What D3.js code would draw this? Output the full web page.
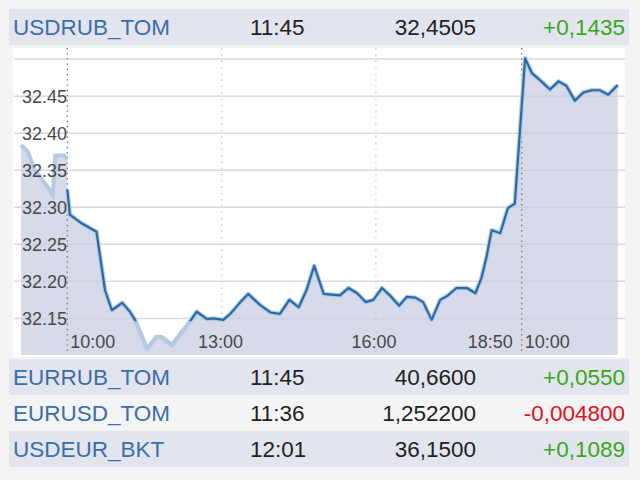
<!DOCTYPE html>
<html lang="ru">
<head>
    <meta charset="UTF-8">
    <title>USDRUB_TOM</title>
    <script src="https://d3js.org/d3.v7.min.js"></script>
    <style>
        body {
            margin: 0;
            background: #f4f4f4;
        }
        svg text {
            font-family: "Liberation Sans", Arial, sans-serif;
        }
    </style>
</head>
<body>
    <svg id="chart" width="640" height="480"></svg>
    <script>
    // quotes table (first row is the charted instrument)
    const tickers = ["USDRUB_TOM", "EURRUB_TOM", "EURUSD_TOM", "USDEUR_BKT"];
    const quoteTimes = ["11:45", "11:45", "11:36", "12:01"];
    const prices = ["32,4505", "40,6600", "1,252200", "36,1500"];
    const changes = ["+0,1435", "+0,0550", "-0,004800", "+0,1089"];

    // intraday series: tail of previous session, full session, current session
    const prevTimes = ["17:56", "18:04", "18:12", "18:21", "18:28", "18:33", "18:36", "18:46", "18:50"];
    const prevValues = [32.384, 32.375, 32.350, 32.337, 32.326, 32.317, 32.370, 32.370, 32.366];

    const day1Times = ["10:00", "10:03", "10:17", "10:34", "10:44", "10:52", "11:04", "11:13", "11:19",
        "11:33", "11:44", "11:50", "12:02", "12:14", "12:19", "12:31", "12:43", "12:50", "13:02",
        "13:10", "13:22", "13:31", "13:45", "13:57", "14:08", "14:19", "14:30", "14:39", "14:48",
        "14:59", "15:08", "15:18", "15:28", "15:38", "15:48", "15:57", "16:07", "16:18", "16:27",
        "16:36", "16:46", "16:55", "17:05", "17:15", "17:24", "17:34", "17:46", "17:56", "18:03",
        "18:09", "18:15", "18:25", "18:34", "18:42"];
    const day1Values = [32.324, 32.290, 32.278, 32.267, 32.188, 32.161, 32.171, 32.159, 32.148,
        32.109, 32.125, 32.125, 32.114, 32.132, 32.139, 32.159, 32.149, 32.150, 32.148,
        32.156, 32.172, 32.183, 32.168, 32.158, 32.156, 32.175, 32.165, 32.188, 32.221,
        32.183, 32.182, 32.181, 32.191, 32.184, 32.172, 32.175, 32.191, 32.179, 32.167,
        32.179, 32.178, 32.172, 32.148, 32.175, 32.181, 32.191, 32.191, 32.184, 32.204,
        32.233, 32.269, 32.265, 32.299, 32.305];

    const day2Times = ["10:04", "10:12", "10:21", "10:33", "10:43", "10:52", "11:02", "11:12", "11:22", "11:31", "11:41", "11:52"];
    const day2Values = [32.501, 32.481, 32.472, 32.459, 32.470, 32.464, 32.444, 32.455, 32.458, 32.458, 32.452, 32.465];

    const yTicks = [32.15, 32.20, 32.25, 32.30, 32.35, 32.40, 32.45, 32.50];
    const yLabelled = [32.15, 32.20, 32.25, 32.30, 32.35, 32.40, 32.45];
    const xTickLabels = ["10:00", "13:00", "16:00", "18:50", "10:00"];
    const xTickDays = [0, 0, 0, 0, 1];
    const sessionBreaks = ["10:00", "18:50"];

    // trading minutes: session 10:00-18:50 = 530 min, sessions glued together
    const SESSION = 530;
    function tradeMin(day, t) {
        const [h, m] = t.split(":").map(Number);
        return day * SESSION + h * 60 + m - 600;
    }
    const toPoints = (day, times, values) => times.map((t, i) => ({ x: tradeMin(day, t), v: values[i] }));
    const prevData = toPoints(-1, prevTimes, prevValues);
    const mainData = toPoints(0, day1Times, day1Values).concat(toPoints(1, day2Times, day2Values));
    const allData = prevData.concat(mainData);

    const svg = d3.select("#chart");
    const blue = "#3b6ea9";

    const panel = { left: 13, right: 625, top: 48, bottom: 357 };
    const x = d3.scaleLinear()
        .domain([d3.min(allData, d => d.x), d3.max(allData, d => d.x)])
        .range([21, 617.7]);
    const y = d3.scaleLinear()
        .domain([32.1006, 32.515])
        .range([355, 48]);

    // header row
    function drawRow(g, i, yTop, filled) {
        if (filled) {
            g.append("rect")
                .attr("x", 9).attr("y", yTop)
                .attr("width", 620).attr("height", 36)
                .attr("fill", "#e2e5ee");
        }
        const base = yTop + 26;
        const txt = (xx, s, anchor, fill) => g.append("text")
            .attr("x", xx).attr("y", base)
            .attr("text-anchor", anchor)
            .attr("font-size", "22.5px")
            .attr("fill", fill)
            .text(s);
        txt(13, tickers[i], "start", blue);
        txt(250, quoteTimes[i], "start", "#222");
        txt(476, prices[i], "end", "#222");
        txt(625, changes[i], "end", changes[i].startsWith("-") ? "#e3101e" : "#3aa51c");
    }
    drawRow(svg.append("g"), 0, 9, true);

    // chart panel
    svg.append("rect")
        .attr("x", panel.left).attr("y", panel.top)
        .attr("width", panel.right - panel.left)
        .attr("height", panel.bottom - panel.top)
        .attr("fill", "#fff");

    svg.append("g").selectAll("line")
        .data(yTicks)
        .enter().append("line")
        .attr("x1", panel.left + 1).attr("x2", panel.right)
        .attr("y1", d => y(d)).attr("y2", d => y(d))
        .attr("stroke", "#dadada")
        .attr("stroke-width", 1.5);

    const area = d3.area()
        .x(d => x(d.x))
        .y0(y.range()[0])
        .y1(d => y(d.v));
    svg.append("path")
        .datum(allData)
        .attr("d", area)
        .attr("fill", "#c9cde0")
        .attr("opacity", 0.75);

    // dotted time lines
    const tickPos = xTickLabels.map((t, i) => x(tradeMin(xTickDays[i], t)));
    const breakPos = [x(tradeMin(0, sessionBreaks[0])), x(tradeMin(0, sessionBreaks[1]))];
    svg.append("g").selectAll("line")
        .data([tickPos[1], tickPos[2]])
        .enter().append("line")
        .attr("x1", d => d).attr("x2", d => d)
        .attr("y1", panel.top).attr("y2", 355)
        .attr("stroke", "#c4c4c4")
        .attr("stroke-width", 1.3)
        .attr("stroke-dasharray", "1.3,5");
    svg.append("g").selectAll("line")
        .data(breakPos)
        .enter().append("line")
        .attr("x1", d => d).attr("x2", d => d)
        .attr("y1", panel.top).attr("y2", 355)
        .attr("stroke", "#7d7d7d")
        .attr("stroke-width", 1.4)
        .attr("stroke-dasharray", "1.4,3.8");

    const line = d3.line()
        .x(d => x(d.x))
        .y(d => y(d.v));

    // light halo under everything
    svg.append("path")
        .datum(prevData)
        .attr("d", line)
        .attr("fill", "none")
        .attr("stroke", "#b3cbe2")
        .attr("stroke-width", 4);
    svg.append("path")
        .datum(mainData)
        .attr("d", line)
        .attr("fill", "none")
        .attr("stroke", "#b3cbe2")
        .attr("stroke-width", 4.5)
        .attr("stroke-linejoin", "round");

    svg.append("clipPath").attr("id", "plotClip")
        .append("rect")
        .attr("x", 0).attr("y", panel.top)
        .attr("width", 640).attr("height", y(32.146) - panel.top);

    svg.append("path")
        .datum(mainData)
        .attr("clip-path", "url(#plotClip)")
        .attr("d", line)
        .attr("fill", "none")
        .attr("stroke", "#2a6aa6")
        .attr("stroke-width", 2.2)
        .attr("stroke-linejoin", "round");

    // y labels
    svg.append("g").selectAll("text")
        .data(yLabelled)
        .enter().append("text")
        .attr("x", 67)
        .attr("y", d => y(d))
        .attr("dy", "0.36em")
        .attr("text-anchor", "end")
        .attr("font-size", "18px")
        .attr("fill", "#484848")
        .text(d => d3.format(".2f")(d));

    // x labels
    const anchors = ["start", "middle", "middle", "end", "start"];
    const shifts = [3, -1, -2, -9, 3];
    svg.append("g").selectAll("text")
        .data(xTickLabels)
        .enter().append("text")
        .attr("x", (d, i) => tickPos[i] + shifts[i])
        .attr("y", 348)
        .attr("text-anchor", (d, i) => anchors[i])
        .attr("font-size", "18px")
        .attr("fill", "#484848")
        .text(d => d);

    // other quotes
    const rowY = d3.scaleBand()
        .domain(tickers.slice(1))
        .range([359, 467]);
    tickers.slice(1).forEach((t, k) => {
        drawRow(svg.append("g"), k + 1, rowY(t), k !== 1);
    });
    </script>
</body>
</html>
